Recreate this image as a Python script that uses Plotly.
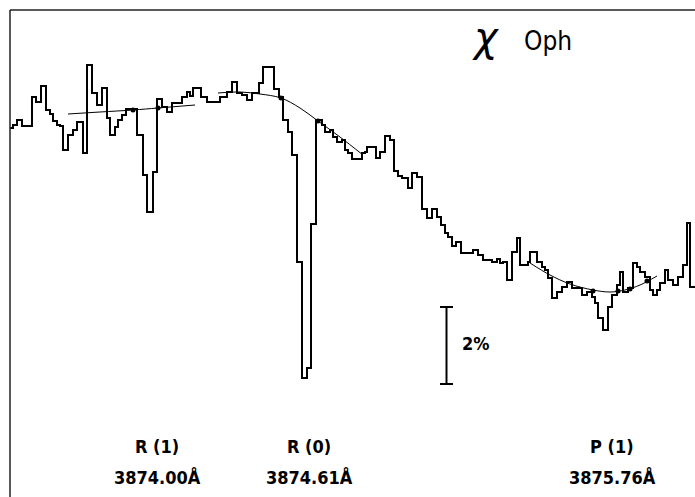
import plotly.graph_objects as go

# Step spectrum: bin start positions (channel) and relative intensity (plot units, larger = lower)
channel = [10, 13, 17, 22, 32, 36, 41, 46, 50, 53, 57, 60, 63, 68, 73, 77, 83, 87, 92, 97,
           102, 107, 110, 115, 118, 122, 126, 137, 143, 147, 153, 157, 162, 167, 172, 182, 187, 190, 193, 201,
           207, 220, 227, 232, 237, 242, 247, 252, 259, 263, 274, 279, 283, 288, 292, 297, 302, 307, 311, 316,
           322, 325, 330, 333, 337, 342, 345, 348, 352, 362, 365, 367, 376, 380, 385, 390, 394, 398, 402, 408,
           412, 417, 422, 427, 432, 437, 441, 445, 448, 452, 456, 461, 473, 478, 483, 492, 497, 500, 503, 507,
           512, 517, 520, 528, 530, 537, 542, 545, 548, 552, 557, 562, 567, 572, 582, 587, 592, 595, 598, 603,
           608, 612, 617, 620, 623, 628, 633, 637, 640, 645, 650, 653, 657, 660, 665, 668, 673, 678, 683, 687,
           690, 695]
intensity = [128, 125, 120, 126, 97, 102, 86, 110, 114, 121, 125, 126, 150, 135, 130, 122, 153, 65, 93, 105,
             88, 118, 135, 127, 120, 115, 109, 135, 175, 212, 172, 99, 107, 112, 103, 97, 92, 96, 88, 97,
             102, 97, 92, 82, 93, 95, 100, 93, 83, 67, 89, 97, 120, 132, 155, 262, 378, 368, 224, 120,
             125, 132, 130, 137, 142, 140, 150, 153, 159, 153, 152, 147, 158, 152, 136, 140, 171, 176, 178, 188,
             173, 177, 209, 218, 209, 217, 225, 233, 237, 246, 242, 253, 250, 255, 260, 262, 259, 263, 262, 280,
             252, 238, 265, 262, 252, 262, 267, 270, 278, 298, 292, 287, 282, 288, 295, 292, 297, 303, 318, 330,
             307, 295, 285, 272, 292, 288, 263, 267, 272, 277, 290, 295, 290, 283, 270, 280, 285, 277, 265, 223,
             287, 287]

# Continuum fits around each line
cont1_x = [68, 100, 133, 158, 195]
cont1_y = [114, 112, 110, 108, 105]
cont2_x = [218, 240, 260, 281, 300, 318, 340, 363]
cont2_y = [93, 92, 94, 98, 108, 121, 137, 155]
cont3_x = [530, 550, 570, 593, 610, 625, 640, 657]
cont3_y = [263, 275, 284, 290, 292, 290, 285, 276]

dots_x = [133, 158, 281, 318, 593, 618, 630, 647]
dots_y = [110, 108, 98, 121, 291, 291, 289, 281]

line_names = ["R (1)", "R (0)", "P (1)"]
line_waves = ["3874.00Å", "3874.61Å", "3875.76Å"]
line_pos = [157, 309, 612]

fig = go.Figure()
fig.add_trace(go.Scatter(x=channel, y=intensity, mode="lines", line=dict(shape="hv", color="black", width=2),
                         hoverinfo="skip"))
for cx, cy in [(cont1_x, cont1_y), (cont2_x, cont2_y), (cont3_x, cont3_y)]:
    fig.add_trace(go.Scatter(x=cx, y=cy, mode="lines", line=dict(shape="spline", color="black", width=1),
                             hoverinfo="skip"))
fig.add_trace(go.Scatter(x=dots_x, y=dots_y, mode="markers", marker=dict(color="black", size=5),
                         hoverinfo="skip"))

# Frame
fig.add_shape(type="line", x0=10, x1=695, y0=10, y1=10, line=dict(color="#222", width=1.5))
fig.add_shape(type="line", x0=10, x1=10, y0=10, y1=497, line=dict(color="#222", width=1.5))
# 2% scale bar
fig.add_shape(type="line", x0=446.5, x1=446.5, y0=307, y1=384, line=dict(color="black", width=2))
fig.add_shape(type="line", x0=440, x1=453, y0=307, y1=307, line=dict(color="black", width=2))
fig.add_shape(type="line", x0=440, x1=453, y0=384, y1=384, line=dict(color="black", width=2))

font = "DejaVu Sans Condensed"
fig.add_annotation(x=476, y=343, text="<b>2%</b>", showarrow=False, xanchor="center", yanchor="middle",
                   font=dict(family=font, size=18, color="black"))
fig.add_annotation(x=485, y=37, text="<i>χ</i>", showarrow=False, xanchor="center", yanchor="middle",
                   font=dict(family="DejaVu Sans", size=40, color="black"))
fig.add_annotation(x=548, y=41, text="Oph", showarrow=False, xanchor="center", yanchor="middle",
                   font=dict(family=font, size=26, color="black"))
for name, wave, xp in zip(line_names, line_waves, line_pos):
    fig.add_annotation(x=xp, y=446, text="<b>" + name + "</b>", showarrow=False, xanchor="center",
                       yanchor="middle", font=dict(family=font, size=18, color="black"))
    fig.add_annotation(x=xp, y=477, text="<b>" + wave + "</b>", showarrow=False, xanchor="center",
                       yanchor="middle", font=dict(family=font, size=18, color="black"))

fig.update_layout(width=695, height=497, margin=dict(l=0, r=0, t=0, b=0), showlegend=False,
                  paper_bgcolor="white", plot_bgcolor="white",
                  xaxis=dict(range=[0, 695], visible=False, fixedrange=True),
                  yaxis=dict(range=[497, 0], visible=False, fixedrange=True))
fig.write_html("out.html")
